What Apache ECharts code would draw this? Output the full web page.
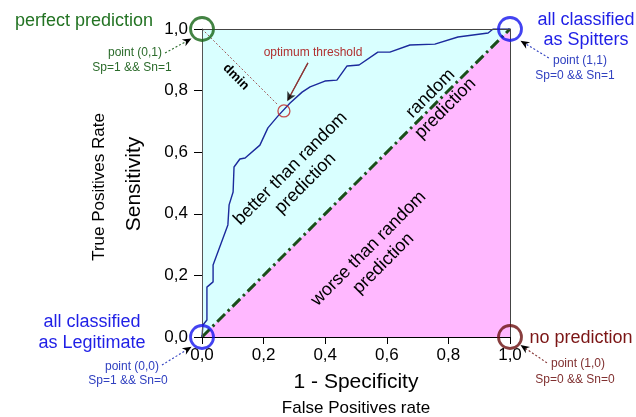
<!DOCTYPE html>
<html>
<head>
<meta charset="utf-8">
<script src="https://cdn.jsdelivr.net/npm/echarts@6/dist/echarts.min.js"></script>
<style>html,body{margin:0;padding:0;background:#fff;}#c{width:636px;height:417px;}</style>
</head>
<body>
<div id="c"></div>
<script>
// ---- data ----
var tickLabels = ['0,0','0,2','0,4','0,6','0,8','1,0'];
var rocCurve = [
  [0,0],[0.003,0.039],[0.016,0.055],[0.016,0.078],[0.016,0.162],[0.036,0.179],[0.036,0.234],
  [0.084,0.364],[0.088,0.429],[0.101,0.471],[0.104,0.552],[0.123,0.578],[0.140,0.581],
  [0.188,0.623],[0.214,0.679],[0.247,0.718],[0.286,0.760],[0.325,0.795],[0.351,0.812],
  [0.399,0.831],[0.438,0.834],[0.471,0.880],[0.510,0.883],[0.571,0.925],[0.610,0.925],
  [0.675,0.948],[0.756,0.951],[0.831,0.974],[0.929,0.987],[0.945,1.0],[1,1]
];
var randomLine = [[0,0],[1,1]];
var topEdge = [[0,1],[1,1]];
var optimumPoint = [0.266,0.734];
var dminLine = [[0,1],[0.247,0.753]];
var optimumArrow = [[0.344,0.890],[0.272,0.757]];
var cornerPoints = [[0,1],[1,1],[0,0],[1,0]];
var cornerColors = ['#146414','#1414ee','#1414ee','#6a0e0e'];
// corner annotation arrows (data coordinates): start, end, colour
var arrows = [
  [[-0.120,0.922],[-0.034,0.969],'#2b6b2b'],
  [[1.126,0.906],[1.034,0.962],'#3040c0'],
  [[-0.130,-0.091],[-0.034,-0.032],'#3040c0'],
  [[1.120,-0.084],[1.034,-0.026],'#803030']
];

var FONT = '"Liberation Sans", Arial, sans-serif';
var chart = echarts.init(document.getElementById('c'), null, {renderer:'canvas'});

var idc = 0;
function txt(text,x,y,size,color,opts){
  opts=opts||{};
  return {type:'text', id:'t'+(idc++), x:x, y:y, rotation:opts.rot||0, z:100,
    style:{text:text, fill:color, font:(opts.bold?'bold ':'')+size+'px '+FONT,
      align:'center', verticalAlign:'middle', textAlign:'center', textVerticalAlign:'middle',
      lineHeight:opts.lh||size*1.15}};
}

var axisCommon = {
  type:'value', min:0, max:1, interval:0.2,
  splitLine:{show:false}, z:10
};

var texts = [
  txt('perfect prediction',84,21,18,'#237323'),
  txt('point (0,1)',135,53,12,'#2b6b2b'),
  txt('Sp=1 && Sn=1',132,68,12,'#2b6b2b'),
  txt('all classified',586,20,18,'#1f1fe6'),
  txt('as Spitters',586,40,18,'#1f1fe6'),
  txt('point (1,1)',580,61,12,'#3040c0'),
  txt('Sp=0 && Sn=1',575,76,12,'#3040c0'),
  txt('all classified',92,322,18,'#1f1fe6'),
  txt('as Legitimate',92,343,18,'#1f1fe6'),
  txt('point (0,0)',132,367,12,'#3040c0'),
  txt('Sp=1 && Sn=0',128,381,12,'#3040c0'),
  txt('no prediction',581,338,18,'#7b1515'),
  txt('point (1,0)',578,364,12,'#803030'),
  txt('Sp=0 && Sn=0',575,380,12,'#803030'),
  txt('optimum threshold',313,53,12,'#b03030'),
  txt('dmin',236,77,13,'#000',{bold:true, rot:-Math.PI/4}),
  txt('better than random\nprediction',298,176,18,'#000',{rot:Math.PI/4, lh:21}),
  txt('random\nprediction',438,101,18,'#000',{rot:Math.PI/4, lh:21}),
  txt('worse than random\nprediction',376,256,18,'#000',{rot:Math.PI/4, lh:21}),
  txt('1 - Specificity',356,382,21,'#000'),
  txt('False Positives rate',356,408,17,'#000'),
  txt('Sensitivity',134,184,21,'#000',{rot:Math.PI/2}),
  txt('True Positives Rate',99,187,17,'#000',{rot:Math.PI/2})
];

// optimum-threshold arrow: shaft as a line series (ordered by increasing x), head as an arrow symbol
var PX = 1/308;
var oa = optimumArrow[0], ob = optimumArrow[1];
var odx = ob[0]-oa[0], ody = ob[1]-oa[1], oL = Math.sqrt(odx*odx+ody*ody);
var oux = odx/oL, ouy = ody/oL;
var oShaftEnd = [ob[0]-oux*5*PX, ob[1]-ouy*5*PX];
var oShaft = [oShaftEnd, oa];
var oHead = {value:[ob[0]-oux*3*PX, ob[1]-ouy*3*PX], symbolRotate:Math.atan2(ouy,oux)*180/Math.PI-90};

chart.setOption({
  animation:false,
  backgroundColor:'#fff',
  grid:{left:202, top:29, width:308, height:308, containLabel:false},
  xAxis:[
    Object.assign({}, axisCommon, {position:'bottom',
      axisLine:{show:true, onZero:false, lineStyle:{color:'#000', width:1}},
      axisTick:{show:true, length:7, lineStyle:{color:'#000'}},
      axisLabel:{fontSize:17, color:'#000', margin:10, fontFamily:FONT,
        formatter:function(v){return tickLabels[Math.round(v*5)];}}}),
    Object.assign({}, axisCommon, {position:'top',
      axisLine:{show:true, onZero:false, lineStyle:{color:'#444', width:1}},
      axisTick:{show:false}, axisLabel:{show:false}})
  ],
  yAxis:[
    Object.assign({}, axisCommon, {position:'left',
      axisLine:{show:true, onZero:false, lineStyle:{color:'#555', width:1}},
      axisTick:{show:true, length:8, lineStyle:{color:'#000'}},
      axisLabel:{fontSize:17, color:'#000', margin:14, fontFamily:FONT,
        formatter:function(v){return tickLabels[Math.round(v*5)];}}}),
    Object.assign({}, axisCommon, {position:'right',
      axisLine:{show:true, onZero:false, lineStyle:{color:'#444', width:1}},
      axisTick:{show:false}, axisLabel:{show:false}})
  ],
  series:[
    {type:'line', data:topEdge, symbol:'none', silent:true, z:1,
      lineStyle:{width:0}, areaStyle:{color:'#d9ffff', opacity:1}},
    {type:'line', data:randomLine, symbol:'none', silent:true, z:2,
      lineStyle:{width:0}, areaStyle:{color:'#ffb8ff', opacity:1}},
    {type:'line', data:randomLine, symbol:'none', silent:true, z:3,
      lineStyle:{color:'#1a4d1a', width:3, type:[11,4,2.5,4]}},
    {type:'line', data:rocCurve, symbol:'none', silent:true, z:4,
      lineStyle:{color:'#1b2a9c', width:1.4}},
    {type:'line', data:dminLine, symbol:'none', silent:true, z:4,
      lineStyle:{color:'#a05a5a', width:1, type:[2,2]}},
    {type:'line', data:oShaft, symbol:'none', silent:true, z:4,
      lineStyle:{color:'#8b3535', width:1.1}},
    {type:'lines', coordinateSystem:'cartesian2d', silent:true, z:4,
      data:[{coords:[oa, oShaftEnd]}], symbol:['none','none'],
      lineStyle:{color:'#8b3535', width:1.1, opacity:1, curveness:0}},
    {type:'scatter', data:[oHead], symbol:'arrow', symbolSize:[7,9], silent:true, z:6,
      itemStyle:{color:'#000'}},
    {type:'scatter', data:[optimumPoint], symbol:'circle', symbolSize:12, silent:true, z:5,
      itemStyle:{color:'rgba(0,0,0,0)', borderColor:'#c02020', borderWidth:1.3}},
    {type:'scatter', clip:false, silent:true, z:20, symbol:'circle', symbolSize:23,
      data:cornerPoints.map(function(p,i){return {value:p, itemStyle:{color:'rgba(0,0,0,0)', borderColor:cornerColors[i], borderWidth:2.8}};})}
  ]
});

// corner annotation arrows positioned through the chart's own coordinate conversion
var arrowEls = [];
arrows.forEach(function(a, k){
  var s = chart.convertToPixel({xAxisIndex:0, yAxisIndex:0}, a[0]);
  var e = chart.convertToPixel({xAxisIndex:0, yAxisIndex:0}, a[1]);
  var dx=e[0]-s[0], dy=e[1]-s[1], L=Math.sqrt(dx*dx+dy*dy);
  var ux=dx/L, uy=dy/L, px=-uy, py=ux;
  var hl=9, hw=3.8;
  var b=[e[0]-ux*hl, e[1]-uy*hl];
  var n=[e[0]-ux*hl*0.7, e[1]-uy*hl*0.7];
  arrowEls.push({type:'line', id:'al'+k, z:150, shape:{x1:s[0], y1:s[1], x2:n[0], y2:n[1]},
    style:{stroke:a[2], lineWidth:1.1, lineDash:[2,2]}});
  arrowEls.push({type:'polygon', id:'ah'+k, z:151, shape:{points:[
    e, [b[0]+px*hw, b[1]+py*hw], n, [b[0]-px*hw, b[1]-py*hw]]},
    style:{fill:'#000'}});
});
chart.setOption({graphic:{elements:texts.concat(arrowEls)}});
</script>
</body>
</html>
